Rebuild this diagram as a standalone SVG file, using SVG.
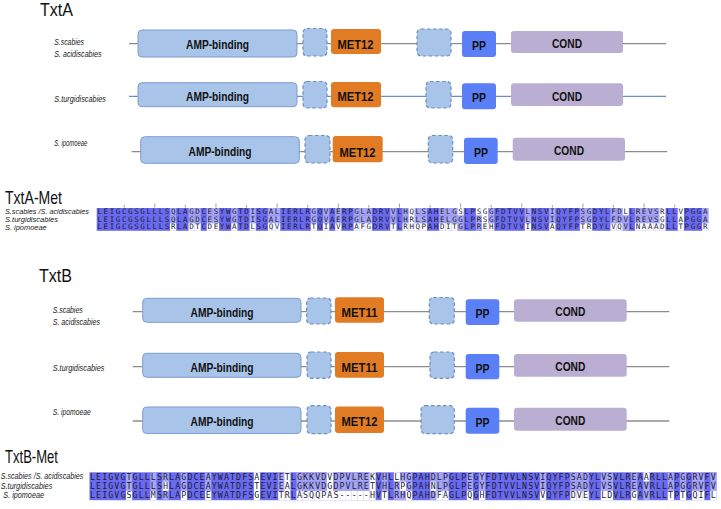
<svg xmlns="http://www.w3.org/2000/svg" xmlns:xlink="http://www.w3.org/1999/xlink" width="721" height="509" viewBox="0 0 721 509">
<style>
.title{font-family:"Liberation Sans",Arial,sans-serif;font-size:19px;fill:#111}
.sp{font-family:"Liberation Sans",Arial,sans-serif;font-style:italic;font-size:9.5px;fill:#1a1a1a}
.spa{font-family:"Liberation Sans",Arial,sans-serif;font-style:italic;font-size:7.6px;fill:#1a1a1a}
.spb{font-family:"Liberation Sans",Arial,sans-serif;font-style:italic;font-size:8.4px;fill:#1a1a1a}
.bb{stroke:#8c8c8c;stroke-width:1.3;fill:none}
.bbb{stroke:#6a8bc8;stroke-width:1.3;fill:none}
.amp{fill:#a8c4e9;stroke:#7f9dd0;stroke-width:1}
.dash{fill:#a8c4e9;stroke:#6d8ec4;stroke-width:1.2;stroke-dasharray:3.5 2.5}
.met{fill:#e27c24}
.pp{fill:#5a7ff6}
.cond{fill:#baafd2}
.dl{font-family:"Liberation Sans",Arial,sans-serif;font-weight:bold;font-size:13.5px;text-anchor:middle;fill:#111}
.dk{fill:#6a6aef}
.lt{fill:#a7a7f6}
.wt{fill:#ffffff}
.seqA{font-family:"DejaVu Sans Mono",monospace;font-size:7.5px;letter-spacing:1.6px;fill:#1c1c34}
.seqB{font-family:"DejaVu Sans Mono",monospace;font-size:8.3px;letter-spacing:1.09px;fill:#1c1c34}
.tick{stroke:#8a8a8a;stroke-width:0.8}
</style>
<defs>
<g id="A_a"><rect class="lt" x="0" y="0" width="1.01" height="7.6"/><rect class="lt" x="0" y="7.6" width="1.01" height="7.6"/><rect class="wt" x="0" y="15.2" width="1.01" height="7.6"/></g>
<g id="A_c"><rect class="wt" x="0" y="0" width="1.01" height="7.6"/><rect class="lt" x="0" y="7.6" width="1.01" height="7.6"/><rect class="lt" x="0" y="15.2" width="1.01" height="7.6"/></g>
<g id="A_w"><rect class="wt" x="0" y="0" width="1.01" height="22.8"/></g>
<g id="B_a"><rect class="lt" x="0" y="0" width="1.01" height="9.3"/><rect class="lt" x="0" y="9.3" width="1.01" height="9.3"/><rect class="wt" x="0" y="18.6" width="1.01" height="9.3"/></g>
<g id="B_b"><rect class="lt" x="0" y="0" width="1.01" height="9.3"/><rect class="wt" x="0" y="9.3" width="1.01" height="9.3"/><rect class="lt" x="0" y="18.6" width="1.01" height="9.3"/></g>
<g id="B_c"><rect class="wt" x="0" y="0" width="1.01" height="9.3"/><rect class="lt" x="0" y="9.3" width="1.01" height="9.3"/><rect class="lt" x="0" y="18.6" width="1.01" height="9.3"/></g>
<g id="B_w"><rect class="wt" x="0" y="0" width="1.01" height="27.9"/></g>
</defs>
<rect width="721" height="509" fill="#ffffff"/>

<text class="title" x="40" y="16" textLength="33" lengthAdjust="spacingAndGlyphs">TxtA</text>
<text class="title" x="39" y="282" textLength="33" lengthAdjust="spacingAndGlyphs">TxtB</text>
<text class="title" x="5" y="203.5" textLength="57" lengthAdjust="spacingAndGlyphs">TxtA-Met</text>
<text class="title" x="5" y="463" font-size="18" textLength="53" lengthAdjust="spacingAndGlyphs">TxtB-Met</text>

<g id="species-labels">
<text class="sp" x="54.3" y="44.5" textLength="29.7" lengthAdjust="spacingAndGlyphs">S.scabies</text>
<text class="sp" x="54.3" y="56.5" textLength="47.3" lengthAdjust="spacingAndGlyphs">S. acidiscabies</text>
<text class="sp" x="54.3" y="102" textLength="51.7" lengthAdjust="spacingAndGlyphs">S.turgidiscabies</text>
<text class="sp" x="54.3" y="146" textLength="33" lengthAdjust="spacingAndGlyphs">S. ipomoeae</text>
<text class="sp" x="52.7" y="313" textLength="30" lengthAdjust="spacingAndGlyphs">S.scabies</text>
<text class="sp" x="52.7" y="324.5" textLength="47.3" lengthAdjust="spacingAndGlyphs">S. acidiscabies</text>
<text class="sp" x="52.7" y="370.5" textLength="51.7" lengthAdjust="spacingAndGlyphs">S.turgidiscabies</text>
<text class="sp" x="52.7" y="414.5" textLength="38" lengthAdjust="spacingAndGlyphs">S. ipomoeae</text>
</g>

<g id="connectors">
<line class="bb" x1="129" y1="43.7" x2="666" y2="43.7"/>
<line class="bbb" x1="129" y1="96.3" x2="666" y2="96.3"/>
<line class="bb" x1="131.7" y1="151.7" x2="667.3" y2="151.7"/>
<line class="bb" x1="132.7" y1="311.7" x2="669.3" y2="311.7"/>
<line class="bb" x1="132.7" y1="366.7" x2="669.3" y2="366.7"/>
<line class="bb" x1="132.7" y1="421" x2="669.3" y2="421"/>
</g>

<g id="txtA-scabies">
<rect class="amp" x="138" y="30" width="159" height="27" rx="4"/><text class="dl" x="217.5" y="48.7" textLength="63" lengthAdjust="spacingAndGlyphs">AMP-binding</text>
<rect class="dash" x="303" y="28.5" width="24" height="27.5" rx="4"/>
<rect class="met" x="331" y="29" width="50" height="25" rx="3"/><text class="dl" x="355.5" y="48.5" textLength="36" lengthAdjust="spacingAndGlyphs">MET12</text>
<rect class="dash" x="417" y="29" width="34" height="27" rx="4"/>
<rect class="pp" x="462" y="31" width="34" height="26" rx="3"/><text class="dl" x="479" y="49.5" textLength="14" lengthAdjust="spacingAndGlyphs">PP</text>
<rect class="cond" x="511" y="31" width="112" height="22" rx="3"/><text class="dl" x="567" y="48.3" textLength="30" lengthAdjust="spacingAndGlyphs">COND</text>
</g>
<g id="txtA-turgidiscabies">
<rect class="amp" x="138" y="82.7" width="159" height="24" rx="4"/><text class="dl" x="217.5" y="100.7" textLength="63" lengthAdjust="spacingAndGlyphs">AMP-binding</text>
<rect class="dash" x="303" y="81.5" width="24" height="26.5" rx="4"/>
<rect class="met" x="331" y="82" width="50" height="25.3" rx="3"/><text class="dl" x="355.5" y="101.3" textLength="36" lengthAdjust="spacingAndGlyphs">MET12</text>
<rect class="dash" x="426" y="81.5" width="25" height="26.5" rx="4"/>
<rect class="pp" x="462" y="83.3" width="34" height="26" rx="3"/><text class="dl" x="479" y="102.3" textLength="14" lengthAdjust="spacingAndGlyphs">PP</text>
<rect class="cond" x="511" y="83.3" width="112" height="22.7" rx="3"/><text class="dl" x="567" y="100.7" textLength="30" lengthAdjust="spacingAndGlyphs">COND</text>
</g>
<g id="txtA-ipomoeae">
<rect class="amp" x="140.7" y="136.7" width="158.6" height="26.6" rx="4"/><text class="dl" x="220" y="155.7" textLength="63" lengthAdjust="spacingAndGlyphs">AMP-binding</text>
<rect class="dash" x="305" y="135.5" width="25" height="27.5" rx="4"/>
<rect class="met" x="332.7" y="136" width="50" height="26.3" rx="3"/><text class="dl" x="357.5" y="156.5" textLength="36" lengthAdjust="spacingAndGlyphs">MET12</text>
<rect class="dash" x="428.3" y="135.5" width="24.4" height="27.5" rx="4"/>
<rect class="pp" x="464" y="137.7" width="33.7" height="26.3" rx="3"/><text class="dl" x="481" y="156.7" textLength="14" lengthAdjust="spacingAndGlyphs">PP</text>
<rect class="cond" x="512.7" y="137.7" width="112.3" height="23" rx="3"/><text class="dl" x="569" y="155.2" textLength="30" lengthAdjust="spacingAndGlyphs">COND</text>
</g>

<g id="txtB-scabies">
<rect class="amp" x="142.7" y="298.3" width="158.3" height="24" rx="4"/><text class="dl" x="222" y="316.5" textLength="63" lengthAdjust="spacingAndGlyphs">AMP-binding</text>
<rect class="dash" x="306.7" y="298" width="24.3" height="26" rx="4"/>
<rect class="met" x="335" y="297.3" width="49" height="25.4" rx="3"/><text class="dl" x="359.5" y="316.5" textLength="36" lengthAdjust="spacingAndGlyphs">MET11</text>
<rect class="dash" x="429.3" y="297.5" width="25" height="26.5" rx="4"/>
<rect class="pp" x="465.7" y="299.3" width="33.6" height="25.7" rx="3"/><text class="dl" x="482.5" y="317.5" textLength="14" lengthAdjust="spacingAndGlyphs">PP</text>
<rect class="cond" x="514" y="299.3" width="112.7" height="22.4" rx="3"/><text class="dl" x="570.3" y="315.5" textLength="30" lengthAdjust="spacingAndGlyphs">COND</text>
</g>
<g id="txtB-turgidiscabies">
<rect class="amp" x="142.7" y="353.3" width="158.3" height="24" rx="4"/><text class="dl" x="222" y="371.5" textLength="63" lengthAdjust="spacingAndGlyphs">AMP-binding</text>
<rect class="dash" x="307" y="352" width="24" height="26.3" rx="4"/>
<rect class="met" x="335" y="352" width="49" height="25.7" rx="3"/><text class="dl" x="359.5" y="371.5" textLength="36" lengthAdjust="spacingAndGlyphs">MET11</text>
<rect class="dash" x="430" y="352" width="24.3" height="26.3" rx="4"/>
<rect class="pp" x="465.7" y="354" width="33.6" height="25.3" rx="3"/><text class="dl" x="482.5" y="372.5" textLength="14" lengthAdjust="spacingAndGlyphs">PP</text>
<rect class="cond" x="514" y="354" width="112.7" height="22.7" rx="3"/><text class="dl" x="570.3" y="370.5" textLength="30" lengthAdjust="spacingAndGlyphs">COND</text>
</g>
<g id="txtB-ipomoeae">
<rect class="amp" x="142.7" y="407" width="158.3" height="26.5" rx="4"/><text class="dl" x="222" y="426" textLength="63" lengthAdjust="spacingAndGlyphs">AMP-binding</text>
<rect class="dash" x="307" y="405.7" width="24" height="28" rx="4"/>
<rect class="met" x="335" y="406.5" width="49" height="26.5" rx="3"/><text class="dl" x="359.5" y="426" textLength="36" lengthAdjust="spacingAndGlyphs">MET12</text>
<rect class="dash" x="421" y="405.7" width="33.3" height="28" rx="4"/>
<rect class="pp" x="465.7" y="407.7" width="33.6" height="26" rx="3"/><text class="dl" x="482.5" y="427" textLength="14" lengthAdjust="spacingAndGlyphs">PP</text>
<rect class="cond" x="514" y="407.7" width="112.7" height="23" rx="3"/><text class="dl" x="570.3" y="425" textLength="30" lengthAdjust="spacingAndGlyphs">COND</text>
</g>

<g id="txtA-met-alignment">
<text class="spa" x="5" y="214.3" textLength="84" lengthAdjust="spacingAndGlyphs">S.scabies /S. acidiscabies</text>
<text class="spa" x="5" y="221.9" textLength="53" lengthAdjust="spacingAndGlyphs">S.turgidiscabies</text>
<text class="spa" x="5" y="229.5" textLength="41.7" lengthAdjust="spacingAndGlyphs">S. ipomoeae</text>
<g class="tick">
<line x1="124.22" y1="205" x2="124.22" y2="207.6"/><line x1="154.8" y1="203.5" x2="154.8" y2="207.6"/>
<line x1="185.38" y1="205" x2="185.38" y2="207.6"/><line x1="215.96" y1="203.5" x2="215.96" y2="207.6"/>
<line x1="246.54" y1="205" x2="246.54" y2="207.6"/><line x1="277.12" y1="203.5" x2="277.12" y2="207.6"/>
<line x1="307.7" y1="205" x2="307.7" y2="207.6"/><line x1="338.28" y1="203.5" x2="338.28" y2="207.6"/>
<line x1="368.86" y1="205" x2="368.86" y2="207.6"/><line x1="399.44" y1="203.5" x2="399.44" y2="207.6"/>
<line x1="430.02" y1="205" x2="430.02" y2="207.6"/><line x1="460.6" y1="203.5" x2="460.6" y2="207.6"/>
<line x1="491.18" y1="205" x2="491.18" y2="207.6"/><line x1="521.76" y1="203.5" x2="521.76" y2="207.6"/>
<line x1="552.34" y1="205" x2="552.34" y2="207.6"/><line x1="582.92" y1="203.5" x2="582.92" y2="207.6"/>
<line x1="613.5" y1="205" x2="613.5" y2="207.6"/><line x1="644.08" y1="203.5" x2="644.08" y2="207.6"/>
<line x1="674.66" y1="205" x2="674.66" y2="207.6"/>
</g>
<g transform="translate(96.7 208) scale(6.116 1)">
<rect class="dk" x="0" y="0" width="100" height="22.8"/>
<use href="#A_a" x="12"/><use href="#A_a" x="15"/><use href="#A_a" x="16"/><use href="#A_a" x="18"/><use href="#A_a" x="19"/>
<use href="#A_a" x="22"/><use href="#A_a" x="25"/><use href="#A_a" x="28"/><use href="#A_a" x="29"/>
<use href="#A_a" x="35"/><use href="#A_a" x="37"/><use href="#A_a" x="39"/>
<use href="#A_a" x="42"/><use href="#A_a" x="43"/><use href="#A_a" x="44"/><use href="#A_a" x="48"/>
<use href="#A_a" x="50"/><use href="#A_w" x="51"/><use href="#A_a" x="52"/><use href="#A_a" x="53"/><use href="#A_a" x="56"/><use href="#A_a" x="57"/><use href="#A_a" x="58"/><use href="#A_c" x="59"/>
<use href="#A_c" x="62"/><use href="#A_w" x="63"/><use href="#A_a" x="64"/>
<use href="#A_a" x="70"/><use href="#A_a" x="74"/><use href="#A_a" x="79"/>
<use href="#A_a" x="80"/><use href="#A_a" x="84"/><use href="#A_a" x="85"/><use href="#A_c" x="86"/><use href="#A_a" x="88"/><use href="#A_a" x="89"/>
<use href="#A_a" x="90"/><use href="#A_a" x="91"/><use href="#A_w" x="92"/><use href="#A_w" x="95"/><use href="#A_a" x="99"/>
</g>
<text class="seqA" x="97.5" y="214.2">LEIGCGSGLLLSQLAGDCESYWGTDISGALIERLRGQVAERPGLADRVVLHQLSAHELGSLPSGGFDTVVLNSVIQYFPSGDYLFDLLREVSRLLVPGGA</text>
<text class="seqA" x="97.5" y="221.8">LEIGCGSGLLLSQLAGDCESYWGTDISGALIERLRGQVAERPGLADRVVLHRLSAHELGGLPRSGFDTVVLNSVIQYFPSGDYLFDVLREVSGLLAPGGA</text>
<text class="seqA" x="97.5" y="229.4">LEIGCGSGLLLSRLADTCDEYWATDLSGQVIERLRTQIAVRPAFGDRVTLRHQPAHDITGLPREHFDTVVINSVAQYFPTRDYLVQVLNAAADLLTPGGR</text>
</g>

<g id="txtB-met-alignment">
<text class="spb" x="0.7" y="479.3" textLength="82.6" lengthAdjust="spacingAndGlyphs">S.scabies /S. acidiscabies</text>
<text class="spb" x="0.7" y="488.8" textLength="51.6" lengthAdjust="spacingAndGlyphs">S.turgidiscabies</text>
<text class="spb" x="3.3" y="498.3" textLength="40.7" lengthAdjust="spacingAndGlyphs">S. ipomoeae</text>
<g transform="translate(89.5 472.3) scale(6.087 1)">
<rect class="dk" x="0" y="0" width="103" height="27.9"/>
<use href="#B_a" x="6"/>
<use href="#B_a" x="10"/><use href="#B_b" x="12"/><use href="#B_a" x="15"/><use href="#B_a" x="19"/>
<use href="#B_w" x="27"/>
<use href="#B_a" x="31"/><use href="#B_w" x="32"/><use href="#B_a" x="34"/><use href="#B_a" x="35"/><use href="#B_a" x="36"/><use href="#B_a" x="37"/><use href="#B_a" x="38"/><use href="#B_w" x="39"/>
<use href="#B_a" x="40"/><use href="#B_a" x="41"/><use href="#B_a" x="42"/><use href="#B_a" x="43"/><use href="#B_a" x="44"/><use href="#B_a" x="45"/><use href="#B_w" x="46"/><use href="#B_a" x="48"/>
<use href="#B_c" x="50"/><use href="#B_b" x="51"/><use href="#B_a" x="52"/><use href="#B_b" x="56"/><use href="#B_a" x="57"/><use href="#B_a" x="58"/>
<use href="#B_a" x="62"/><use href="#B_a" x="64"/>
<use href="#B_a" x="74"/><use href="#B_a" x="79"/>
<use href="#B_a" x="80"/><use href="#B_a" x="81"/><use href="#B_a" x="84"/><use href="#B_a" x="85"/><use href="#B_a" x="89"/>
<use href="#B_c" x="91"/><use href="#B_a" x="95"/><use href="#B_a" x="97"/><use href="#B_a" x="99"/>
<use href="#B_a" x="100"/><use href="#B_a" x="102"/>
</g>
<text class="seqB" x="90.03" y="479.8">LEIGVGTGLLLSRLAGDCEAYWATDFSAEVIETLGKKVDVDPVLREKVHLLHGPAHDLPGLPEGYFDTVVLNSVIQYFPSADYLVSVLREAARLLAPGGRVFV</text>
<text class="seqB" x="90.03" y="489.1">LEIGVGTGLLLSHLAGDCEAYWATDFSTEVIEALGKKVDGDPVLRETVHLRPGPAHNLPGLPEGYFDTVVLNSVIQYFPSADYLVSVLREAVRLLAPGGRVFV</text>
<text class="seqB" x="90.03" y="498.4">LEIGVGSGLLMSRLAPDCEEYWATDFSGEVITRLASQQPAS-----HVTLRHQPAHDFAGLPQGHFDTVVLNSVVQYFPDVEYLLDVLRGAVRLLTPTGQIFL</text>
</g>
</svg>
